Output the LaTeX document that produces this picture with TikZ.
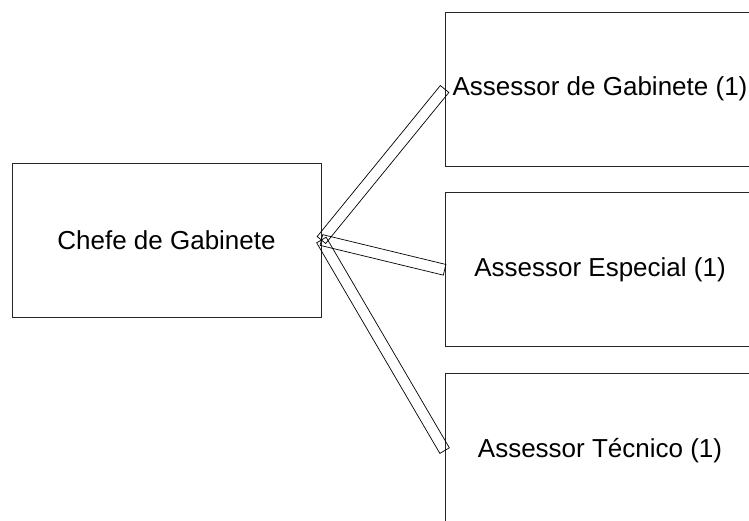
\documentclass[tikz,border=0pt]{standalone}
\usepackage{fontspec}
\setmainfont{Liberation Sans}
\usetikzlibrary{positioning,calc}

\tikzset{
  box/.style={draw=black!85, line width=0.8pt, minimum width=309pt, minimum height=154pt,
    inner sep=0pt, font=\fontsize{26}{31}\selectfont},
  band/.style={line width=0.7pt, to path={
    ($(\tikztostart)!5.5pt!90:(\tikztotarget)$) -- ($(\tikztotarget)!5.5pt!-90:(\tikztostart)$)
    -- ($(\tikztotarget)!5.5pt!90:(\tikztostart)$) -- ($(\tikztostart)!5.5pt!-90:(\tikztotarget)$) -- cycle}}
}

\begin{document}
\begin{tikzpicture}[x=1pt, y=-1pt]
\useasboundingbox (0,0) rectangle (749,521);
\clip (0,0) rectangle (749,521);
\node[box] (chefe) at (166.5,240) {Chefe de Gabinete};
\node[box, minimum width=310pt] (gab) at (600,89) {Assessor de Gabinete (1)};
  \node[box, minimum width=310pt] (esp) [below=26pt of gab] {Assessor Especial (1)};
  \node[box, minimum width=310pt] (tec) [below=26pt of esp] {Assessor Técnico (1)};
   \draw[band] (chefe.east) to (gab.west);
   \draw[band] (chefe.east) to (esp.west);
   \draw[band] (chefe.east) to (tec.west);
\end{tikzpicture}
\end{document}
